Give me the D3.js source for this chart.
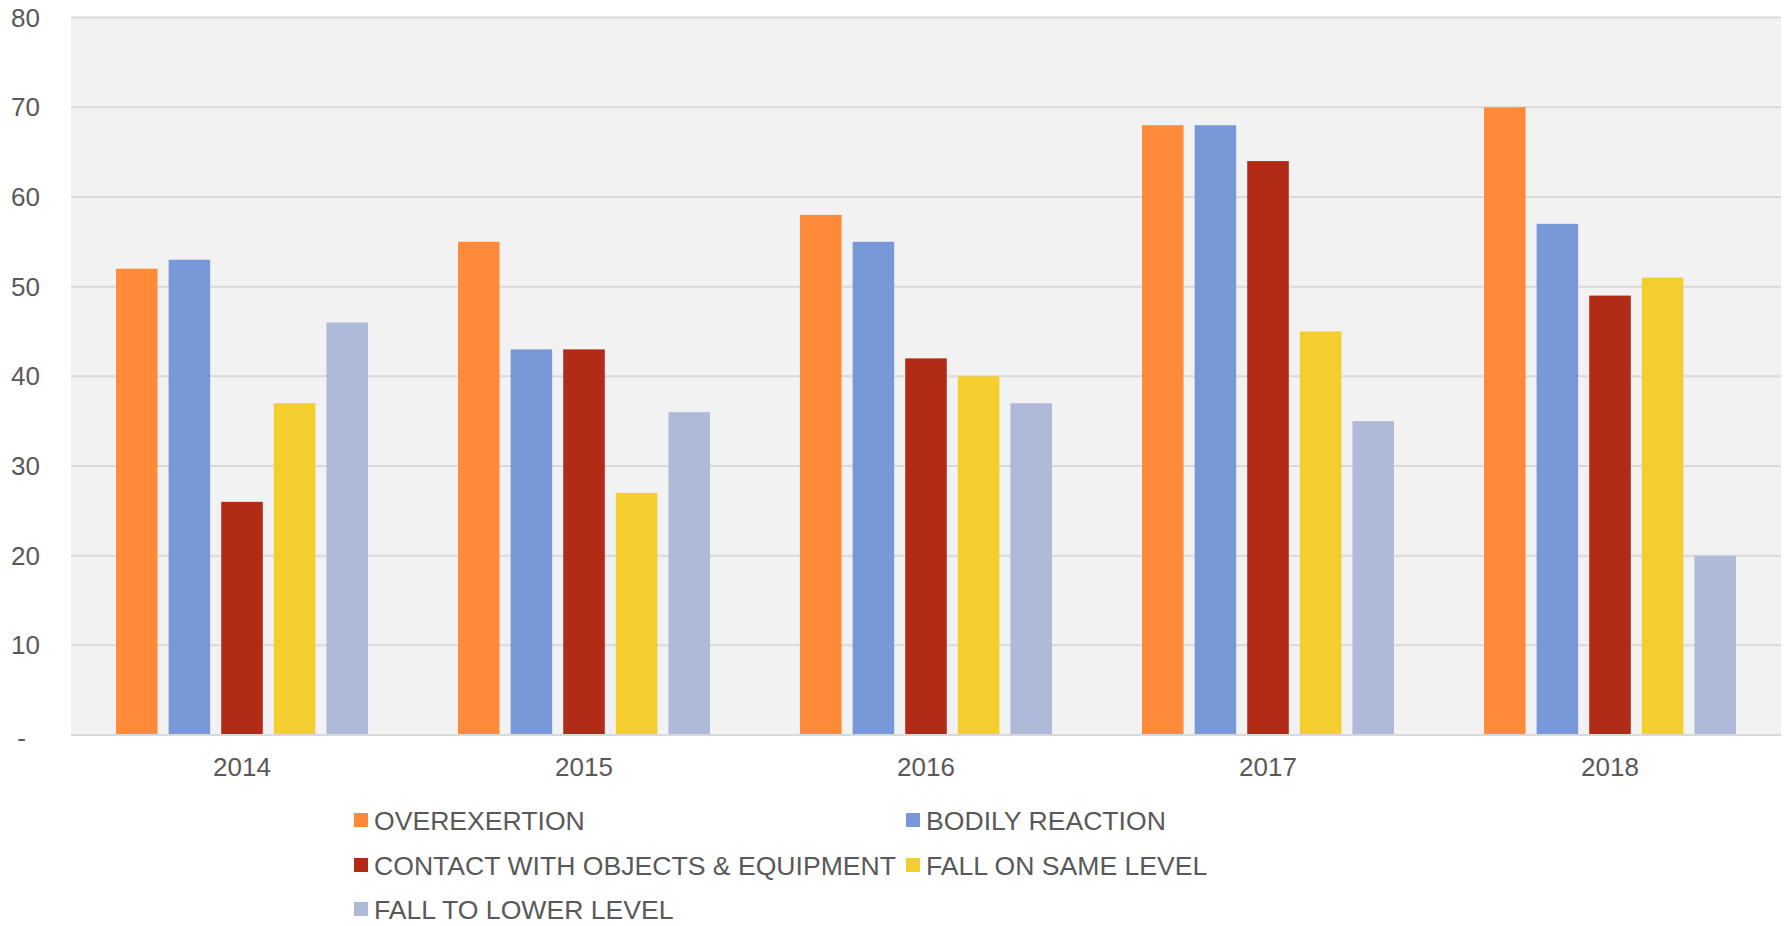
<!DOCTYPE html>
<html>
<head>
<meta charset="utf-8">
<script src="https://cdn.jsdelivr.net/npm/d3@7"></script>
<style>
  html, body { margin: 0; padding: 0; background: #fff; }
  svg { display: block; font-family: "Liberation Sans", Arial, sans-serif; }
</style>
</head>
<body>
<svg id="chart" width="1787" height="926"></svg>
<script>
// ====== DATA ======
const years = ['2014', '2015', '2016', '2017', '2018'];
const seriesNames = [
  'OVEREXERTION',
  'BODILY REACTION',
  'CONTACT WITH OBJECTS & EQUIPMENT',
  'FALL ON SAME LEVEL',
  'FALL TO LOWER LEVEL'
];
const overexertion = [52, 55, 58, 68, 70];
const bodilyReaction = [53, 43, 55, 68, 57];
const contactObjects = [26, 43, 42, 64, 49];
const fallSameLevel = [37, 27, 40, 45, 51];
const fallLowerLevel = [46, 36, 37, 35, 20];
const yTicks = [0, 10, 20, 30, 40, 50, 60, 70, 80];

const seriesValues = [overexertion, bodilyReaction, contactObjects, fallSameLevel, fallLowerLevel];
const colors = ['#ff8a3a', '#7799d8', '#b22b17', '#f4cd2e', '#aebad7'];

// ====== LAYOUT ======
const plot = { left: 71, right: 1781, top: 17.6, bottom: 735 };
const textColor = '#595959';

const svg = d3.select('#chart');

const x0 = d3.scaleBand().domain(years).range([plot.left, plot.right]).padding(0);
const x1 = d3.scaleBand().domain(seriesNames).range([45, 297]).paddingInner(0.21);
const y = d3.scaleLinear().domain([0, 80]).range([plot.bottom, plot.top]);

// plot background
svg.append('rect')
  .attr('x', plot.left).attr('y', plot.top)
  .attr('width', plot.right - plot.left)
  .attr('height', plot.bottom - plot.top)
  .attr('fill', '#f2f2f2');

// gridlines
svg.append('g')
  .selectAll('line')
  .data(yTicks)
  .enter()
  .append('line')
  .attr('x1', plot.left).attr('x2', plot.right)
  .attr('y1', d => y(d)).attr('y2', d => y(d))
  .attr('stroke', '#d9d9d9')
  .attr('stroke-width', 2);

// bars
const groups = svg.append('g')
  .selectAll('g')
  .data(years)
  .enter()
  .append('g')
  .attr('transform', d => `translate(${x0(d)},0)`);

groups.selectAll('rect')
  .data((d, i) => seriesNames.map((s, k) => ({ s: s, v: seriesValues[k][i], k: k })))
  .enter()
  .append('rect')
  .attr('x', d => x1(d.s))
  .attr('width', x1.bandwidth())
  .attr('y', d => y(d.v))
  .attr('height', d => y(0) - y(d.v))
  .attr('fill', d => colors[d.k]);

// bottom axis line
svg.append('line')
  .attr('x1', plot.left).attr('x2', plot.right)
  .attr('y1', y(0)).attr('y2', y(0))
  .attr('stroke', '#d9d9d9')
  .attr('stroke-width', 2);

// y labels
svg.append('g')
  .selectAll('text')
  .data(yTicks)
  .enter()
  .append('text')
  .attr('x', d => d === 0 ? 26 : 40)
  .attr('y', d => y(d))
  .attr('dy', d => d === 0 ? '0.45em' : '0.35em')
  .attr('text-anchor', 'end')
  .attr('fill', textColor)
  .attr('font-size', 26)
  .text(d => d === 0 ? '-' : d);

// x labels
svg.append('g')
  .selectAll('text')
  .data(years)
  .enter()
  .append('text')
  .attr('x', d => x0(d) + x0.bandwidth() / 2)
  .attr('y', 776)
  .attr('text-anchor', 'middle')
  .attr('fill', textColor)
  .attr('font-size', 26)
  .text(d => d);

// legend
const legendPos = [
  { x: 354, y: 820 },
  { x: 906, y: 820 },
  { x: 354, y: 865 },
  { x: 906, y: 865 },
  { x: 354, y: 909 }
];

const legend = svg.append('g')
  .selectAll('g')
  .data(seriesNames)
  .enter()
  .append('g')
  .attr('transform', (d, i) => `translate(${legendPos[i].x},${legendPos[i].y})`);

legend.append('rect')
  .attr('x', 0).attr('y', -7)
  .attr('width', 14).attr('height', 14)
  .attr('fill', (d, i) => colors[i]);

legend.append('text')
  .attr('x', 20)
  .attr('y', 0)
  .attr('dy', '0.36em')
  .attr('fill', textColor)
  .attr('font-size', 26.6)
  .text(d => d);
</script>
</body>
</html>
